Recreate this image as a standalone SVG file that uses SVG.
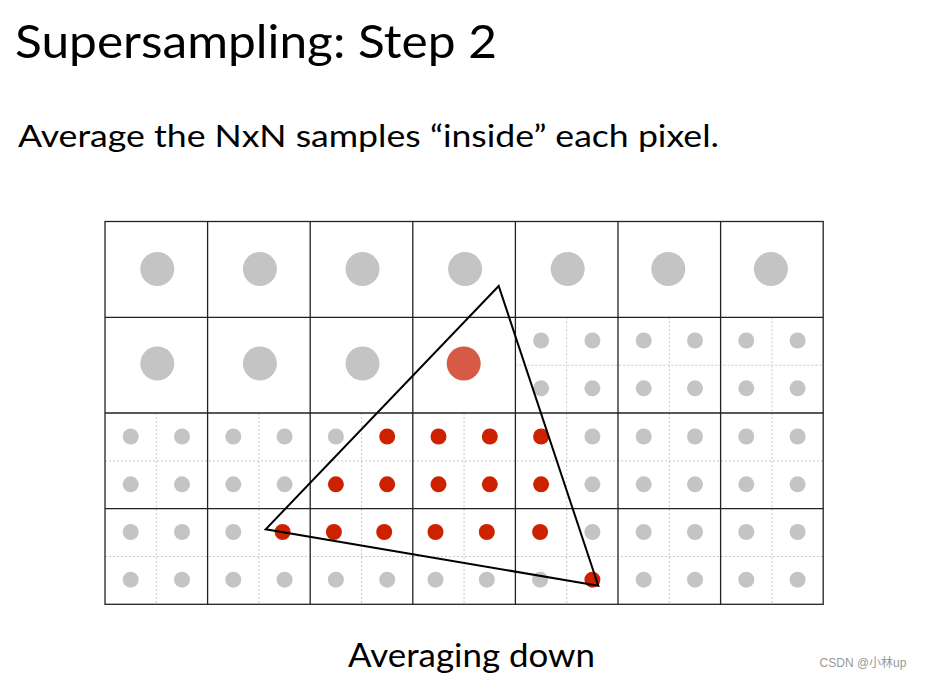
<svg xmlns="http://www.w3.org/2000/svg" width="926" height="679" viewBox="0 0 926 679">
<style>
.t{font-family:Lato,"Open Sans","Liberation Sans",sans-serif;fill:#000}
.g{fill:#c3c4c3}
.r{fill:#cc2200}
.grid{stroke:#222;stroke-width:1.3;fill:none}
.dash{stroke:#c8c8c8;stroke-width:1;stroke-dasharray:2 2;fill:none}
</style>
<rect width="926" height="679" fill="#fff"/>
<text class="t" x="15" y="58" font-size="47" textLength="482" lengthAdjust="spacingAndGlyphs">Supersampling: Step 2</text>
<text class="t" x="18" y="147" font-size="30.5" textLength="701" lengthAdjust="spacingAndGlyphs">Average the NxN samples “inside” each pixel.</text>
<text class="t" x="348" y="667" font-size="32" textLength="247" lengthAdjust="spacingAndGlyphs">Averaging down</text>
<text x="863" y="667" font-size="12" text-anchor="middle" fill="#999" font-family="'Liberation Sans','Noto Sans CJK SC',sans-serif">CSDN @小林up</text>
<g id="subgrid">
<path class="dash" d="M566.7 317.3V413M669.3 317.3V413M771.9 317.3V413M515.4 365.2H823.2"/>
<path class="dash" d="M156.3 413V604.3M258.9 413V604.3M361.5 413V604.3M464.1 413V604.3M566.7 413V604.3M669.3 413V604.3M771.9 413V604.3M105 460.9H823.2M105 556.5H823.2"/>
</g>
<g id="grid">
<rect class="grid" x="105" y="221.5" width="718.2" height="382.8"/>
<path class="grid" d="M207.6 221.5V604.3M310.2 221.5V604.3M412.8 221.5V604.3M515.4 221.5V604.3M618 221.5V604.3M720.6 221.5V604.3M105 317.3H823.2M105 413H823.2M105 508.7H823.2"/>
</g>
<g id="pixels-big">
<circle class="g" cx="157.3" cy="269" r="17"/>
<circle class="g" cx="259.9" cy="269" r="17"/>
<circle class="g" cx="362.5" cy="269" r="17"/>
<circle class="g" cx="465.1" cy="269" r="17"/>
<circle class="g" cx="567.7" cy="269" r="17"/>
<circle class="g" cx="668.3" cy="269" r="17"/>
<circle class="g" cx="770.9" cy="269" r="17"/>
<circle class="g" cx="157.3" cy="363.5" r="17"/>
<circle class="g" cx="259.9" cy="363.5" r="17"/>
<circle class="g" cx="362.5" cy="363.5" r="17"/>
<circle cx="463.7" cy="363.5" r="17" fill="#d65a45"/>
</g>
<g id="samples">
<circle class="g" cx="541.1" cy="340.5" r="8"/><circle class="g" cx="592.4" cy="340.5" r="8"/>
<circle class="g" cx="643.7" cy="340.5" r="8"/><circle class="g" cx="695" cy="340.5" r="8"/>
<circle class="g" cx="746.3" cy="340.5" r="8"/><circle class="g" cx="797.6" cy="340.5" r="8"/>
<circle class="g" cx="541.1" cy="388.3" r="8"/><circle class="g" cx="592.4" cy="388.3" r="8"/>
<circle class="g" cx="643.7" cy="388.3" r="8"/><circle class="g" cx="695" cy="388.3" r="8"/>
<circle class="g" cx="746.3" cy="388.3" r="8"/><circle class="g" cx="797.6" cy="388.3" r="8"/>

<circle class="g" cx="130.7" cy="436.5" r="8"/><circle class="g" cx="182" cy="436.5" r="8"/>
<circle class="g" cx="233.3" cy="436.5" r="8"/><circle class="g" cx="284.6" cy="436.5" r="8"/>
<circle class="g" cx="335.9" cy="436.5" r="8"/><circle class="r" cx="387.2" cy="436.5" r="8"/>
<circle class="r" cx="438.5" cy="436.5" r="8"/><circle class="r" cx="489.8" cy="436.5" r="8"/>
<circle class="r" cx="541.1" cy="436.5" r="8"/><circle class="g" cx="592.4" cy="436.5" r="8"/>
<circle class="g" cx="643.7" cy="436.5" r="8"/><circle class="g" cx="695" cy="436.5" r="8"/>
<circle class="g" cx="746.3" cy="436.5" r="8"/><circle class="g" cx="797.6" cy="436.5" r="8"/>

<circle class="g" cx="130.7" cy="484.3" r="8"/><circle class="g" cx="182" cy="484.3" r="8"/>
<circle class="g" cx="233.3" cy="484.3" r="8"/><circle class="g" cx="284.6" cy="484.3" r="8"/>
<circle class="r" cx="335.9" cy="484.3" r="8"/><circle class="r" cx="387.2" cy="484.3" r="8"/>
<circle class="r" cx="438.5" cy="484.3" r="8"/><circle class="r" cx="489.8" cy="484.3" r="8"/>
<circle class="r" cx="541.1" cy="484.3" r="8"/><circle class="g" cx="592.4" cy="484.3" r="8"/>
<circle class="g" cx="643.7" cy="484.3" r="8"/><circle class="g" cx="695" cy="484.3" r="8"/>
<circle class="g" cx="746.3" cy="484.3" r="8"/><circle class="g" cx="797.6" cy="484.3" r="8"/>

<circle class="g" cx="130.7" cy="532" r="8"/><circle class="g" cx="182" cy="532" r="8"/>
<circle class="g" cx="233.3" cy="532" r="8"/><circle class="r" cx="282.6" cy="532" r="8"/>
<circle class="r" cx="333.9" cy="532" r="8"/><circle class="r" cx="384.2" cy="532" r="8"/>
<circle class="r" cx="435.5" cy="532" r="8"/><circle class="r" cx="486.8" cy="532" r="8"/>
<circle class="r" cx="540.1" cy="532" r="8"/><circle class="g" cx="592.4" cy="532" r="8"/>
<circle class="g" cx="643.7" cy="532" r="8"/><circle class="g" cx="695" cy="532" r="8"/>
<circle class="g" cx="746.3" cy="532" r="8"/><circle class="g" cx="797.6" cy="532" r="8"/>

<circle class="g" cx="130.7" cy="579.7" r="8"/><circle class="g" cx="182" cy="579.7" r="8"/>
<circle class="g" cx="233.3" cy="579.7" r="8"/><circle class="g" cx="284.6" cy="579.7" r="8"/>
<circle class="g" cx="335.9" cy="579.7" r="8"/><circle class="g" cx="387.2" cy="579.7" r="8"/>
<circle class="g" cx="435.5" cy="579.7" r="8"/><circle class="g" cx="486.8" cy="579.7" r="8"/>
<circle class="g" cx="540.1" cy="579.7" r="8"/><circle class="r" cx="592.4" cy="579.7" r="8"/>
<circle class="g" cx="643.7" cy="579.7" r="8"/><circle class="g" cx="695" cy="579.7" r="8"/>
<circle class="g" cx="746.3" cy="579.7" r="8"/><circle class="g" cx="797.6" cy="579.7" r="8"/>
</g>
<g id="triangle">
<polygon points="498.7,286 265.7,529.3 598.3,585.7" fill="none" stroke="#000" stroke-width="2" stroke-linejoin="miter"/>
</g>
</svg>
